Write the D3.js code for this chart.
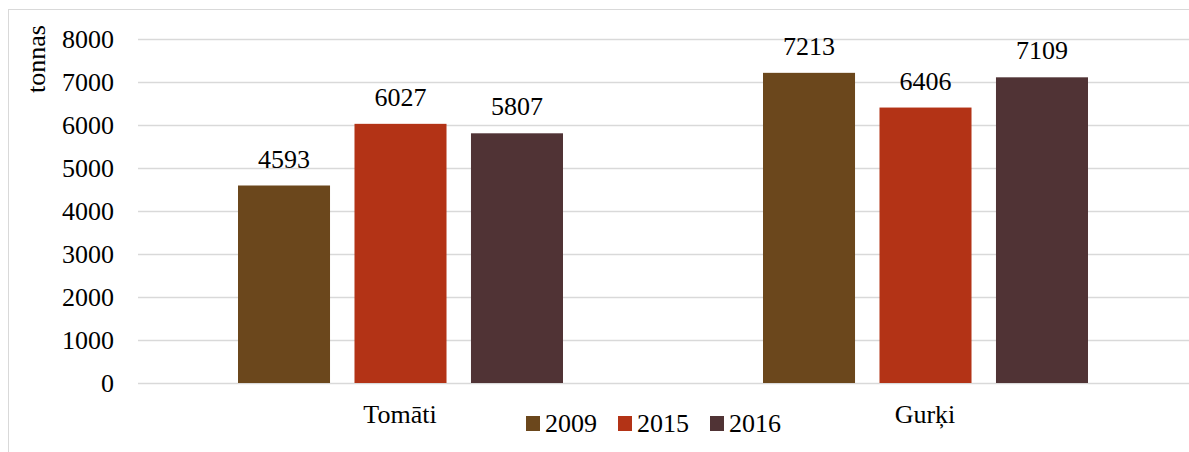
<!DOCTYPE html>
<html>
<head>
<meta charset="utf-8">
<script src="https://cdn.jsdelivr.net/npm/d3@7"></script>
<style>
  body { margin: 0; background: #fff; }
  text { font-family: "Liberation Serif", "Times New Roman", Times, "DejaVu Serif", serif; }
</style>
</head>
<body>
<svg id="chart" width="1189" height="452"></svg>
<script>
// production, tonnas
const categories = ["Tomāti", "Gurķi"];
const years = ["2009", "2015", "2016"];
const values2009 = [4593, 7213];
const values2015 = [6027, 6406];
const values2016 = [5807, 7109];
const yTicks = [0, 1000, 2000, 3000, 4000, 5000, 6000, 7000, 8000];
const colors = ["#6b471c", "#b33316", "#503335"];

const seriesValues = [values2009, values2015, values2016];
const data = categories.map((c, i) => ({
    category: c,
    values: years.map((y, j) => ({ year: y, value: seriesValues[j][i] }))
}));

const svg = d3.select("#chart");

// outer frame
svg.append("rect")
    .attr("x", 8.5).attr("y", 9.5)
    .attr("width", 1200).attr("height", 460)
    .attr("fill", "none")
    .attr("stroke", "#d9d9d9");

const plotLeft = 138, plotRight = 1188, plotTop = 39, plotBottom = 383;

const x0 = d3.scaleBand()
    .domain(categories)
    .range([plotLeft, plotRight]);

const x1 = d3.scaleBand()
    .domain(years)
    .range([100, 425])
    .paddingInner(0.21)
    .paddingOuter(0);

const y = d3.scaleLinear()
    .domain([0, 8000])
    .range([plotBottom, plotTop]);

const color = d3.scaleOrdinal()
    .domain(years)
    .range(colors);

// grid
svg.append("g")
    .selectAll("line")
    .data(yTicks)
    .enter()
    .append("line")
    .attr("x1", plotLeft)
    .attr("x2", plotRight + 10)
    .attr("y1", d => Math.round(y(d)) + 0.5)
    .attr("y2", d => Math.round(y(d)) + 0.5)
    .attr("stroke", "#d9d9d9")
    .attr("stroke-width", 1.5);

// y axis labels
const yAxis = svg.append("g")
    .attr("transform", `translate(${plotLeft}, 0)`)
    .call(d3.axisLeft(y).tickValues(yTicks).tickFormat(d3.format("d")).tickSize(0).tickPadding(24));
yAxis.select(".domain").remove();
yAxis.attr("font-family", null).attr("font-size", null);
yAxis.selectAll("text")
    .attr("font-size", 26)
    .attr("dy", "0.33em")
    .attr("fill", "#000");

// bars
const groups = svg.append("g")
    .selectAll("g")
    .data(data)
    .enter()
    .append("g")
    .attr("transform", d => `translate(${x0(d.category)}, 0)`);

groups.selectAll("rect")
    .data(d => d.values)
    .enter()
    .append("rect")
    .attr("x", d => x1(d.year))
    .attr("y", d => y(d.value))
    .attr("width", x1.bandwidth())
    .attr("height", d => y(0) - y(d.value))
    .attr("fill", d => color(d.year));

groups.selectAll("text")
    .data(d => d.values)
    .enter()
    .append("text")
    .attr("x", d => x1(d.year) + x1.bandwidth() / 2)
    .attr("y", d => y(d.value) - 18)
    .attr("text-anchor", "middle")
    .attr("font-size", 26)
    .text(d => d.value);

// category labels
svg.append("g")
    .selectAll("text")
    .data(categories)
    .enter()
    .append("text")
    .attr("x", d => x0(d) + 262)
    .attr("y", 423)
    .attr("text-anchor", "middle")
    .attr("font-size", 26)
    .text(d => d);

// y axis title
svg.append("text")
    .attr("transform", "rotate(-90)")
    .attr("x", -59)
    .attr("y", 45)
    .attr("text-anchor", "middle")
    .attr("font-size", 26)
    .text("tonnas");

// legend
const legendX = [526, 618, 710];
const legend = svg.append("g");
legend.selectAll("rect")
    .data(years)
    .enter()
    .append("rect")
    .attr("x", (d, i) => legendX[i])
    .attr("y", 416)
    .attr("width", 14)
    .attr("height", 15)
    .attr("fill", color);
legend.selectAll("text")
    .data(years)
    .enter()
    .append("text")
    .attr("x", (d, i) => legendX[i] + 19)
    .attr("y", 432)
    .attr("font-size", 26)
    .text(d => d);
</script>
</body>
</html>
